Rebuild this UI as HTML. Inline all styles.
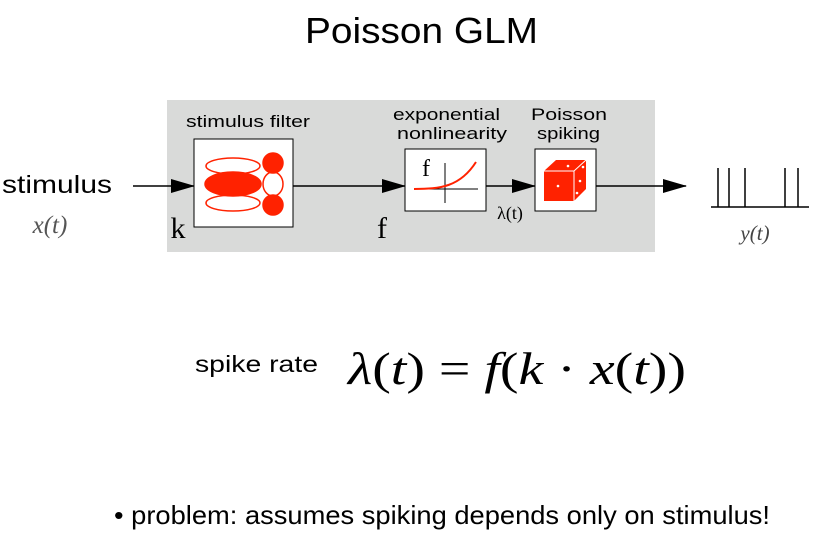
<!DOCTYPE html>
<html><head><meta charset="utf-8"><style>
body{margin:0;background:#fff;width:816px;height:536px;overflow:hidden}
svg{display:block}
.s{font-family:"Liberation Sans",sans-serif}
.m{font-family:"Liberation Serif",serif}
</style></head><body>
<svg width="816" height="536" viewBox="0 0 816 536">
<defs><marker id="ah2" markerWidth="24" markerHeight="14" refX="23" refY="7" orient="auto" markerUnits="userSpaceOnUse"><path d="M0,0 L24,7 L0,14 Z" fill="#000"/></marker></defs>
<text x="305" y="43" textLength="233" lengthAdjust="spacingAndGlyphs" class="s" font-size="36">Poisson GLM</text>
<rect x="167" y="100" width="488" height="152" fill="#d9dad9"/>
<text x="2" y="193" textLength="110" lengthAdjust="spacingAndGlyphs" class="s" font-size="25">stimulus</text>
<text x="50" y="233" text-anchor="middle" class="m" font-style="italic" font-size="25" fill="#555">x(t)</text>
<g stroke="#000" stroke-width="1.5" fill="none">
<line x1="133" y1="186" x2="194" y2="186" marker-end="url(#ah2)"/>
<line x1="293" y1="186" x2="405" y2="186" marker-end="url(#ah2)"/>
<line x1="486" y1="186" x2="535" y2="186" marker-end="url(#ah2)"/>
<line x1="596" y1="186" x2="686" y2="186" marker-end="url(#ah2)"/>
</g>
<text x="186" y="127" textLength="124" lengthAdjust="spacingAndGlyphs" class="s" font-size="17">stimulus filter</text>
<rect x="194" y="139" width="99" height="88" fill="#fff" stroke="#000"/>
<g fill="none" stroke="#ff2200" stroke-width="1.5">
<ellipse cx="233" cy="166" rx="27" ry="8"/>
<ellipse cx="233" cy="184" rx="28" ry="12" fill="#ff2200"/>
<ellipse cx="233" cy="203" rx="27" ry="8"/>
<circle cx="273" cy="163" r="10" fill="#ff2200"/>
<ellipse cx="273" cy="184" rx="10" ry="12"/>
<circle cx="273" cy="205" r="10" fill="#ff2200"/>
</g>
<text x="178" y="238" text-anchor="middle" class="m" font-size="30">k</text>
<text x="382" y="238" text-anchor="middle" class="m" font-size="30">f</text>
<text x="393" y="120" textLength="107" lengthAdjust="spacingAndGlyphs" class="s" font-size="17">exponential</text>
<text x="397" y="139" textLength="110" lengthAdjust="spacingAndGlyphs" class="s" font-size="17">nonlinearity</text>
<rect x="405" y="149" width="81" height="62" fill="#fff" stroke="#000"/>
<line x1="414" y1="189" x2="478" y2="189" stroke="#000" stroke-width="1"/>
<line x1="445" y1="163" x2="445" y2="203" stroke="#000" stroke-width="1"/>
<path d="M414,189 C440,189 460,187 476,162" fill="none" stroke="#ff2200" stroke-width="2"/>
<text x="426" y="176" text-anchor="middle" class="m" font-size="24">f</text>
<text x="510" y="219" text-anchor="middle" class="m" font-size="18">λ(t)</text>
<text x="531" y="120" textLength="76" lengthAdjust="spacingAndGlyphs" class="s" font-size="17">Poisson</text>
<text x="537" y="139" textLength="63" lengthAdjust="spacingAndGlyphs" class="s" font-size="17">spiking</text>
<rect x="535" y="149" width="61" height="62" fill="#fff" stroke="#000"/>
<g>
<path d="M544,171 L556,160 L586,160 L586,189 L574,201 L544,201 Z" fill="#ff2200"/>
<path d="M544,171 L574,171 L586,160 M574,171 L574,201" stroke="#fff" stroke-width="1" fill="none"/>
<circle cx="558" cy="186" r="1.3" fill="#fff"/><circle cx="568" cy="166" r="1.3" fill="#fff"/>
<circle cx="583" cy="167" r="1.3" fill="#fff"/><circle cx="580" cy="181" r="1.3" fill="#fff"/><circle cx="577" cy="193" r="1.3" fill="#fff"/>
</g>
<g stroke="#000" stroke-width="1.5">
<line x1="711" y1="207" x2="809" y2="207"/>
<line x1="718" y1="168" x2="718" y2="207"/><line x1="729" y1="168" x2="729" y2="207"/>
<line x1="745" y1="168" x2="745" y2="207"/><line x1="785" y1="168" x2="785" y2="207"/>
<line x1="798" y1="168" x2="798" y2="207"/>
</g>
<text x="755" y="240" text-anchor="middle" class="m" font-style="italic" font-size="21" fill="#444">y(t)</text>
<text x="195" y="372" textLength="123" lengthAdjust="spacingAndGlyphs" class="s" font-size="23">spike rate</text>
<text x="348" y="384" textLength="338" lengthAdjust="spacingAndGlyphs" class="m" font-size="46"><tspan font-style="italic">λ</tspan>(<tspan font-style="italic">t</tspan>) = <tspan font-style="italic">f</tspan>(<tspan font-style="italic">k</tspan> · <tspan font-style="italic">x</tspan>(<tspan font-style="italic">t</tspan>))</text>
<text x="114" y="524" textLength="656" lengthAdjust="spacingAndGlyphs" class="s" font-size="26">• problem: assumes spiking depends only on stimulus!</text>
</svg>
</body></html>
